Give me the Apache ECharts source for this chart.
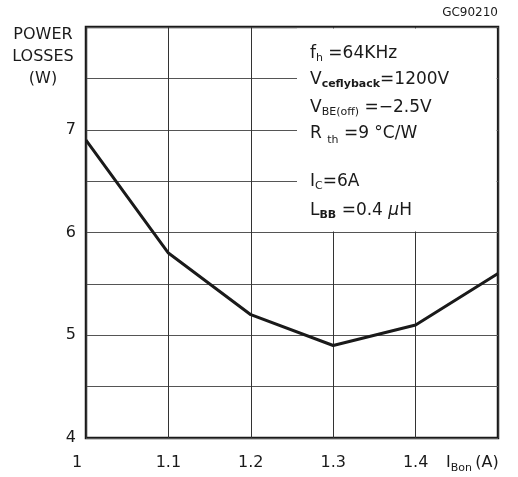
<!DOCTYPE html>
<html>
<head>
<meta charset="utf-8">
<script src="https://cdn.jsdelivr.net/npm/echarts@6/dist/echarts.min.js"></script>
<style>
  html, body { margin: 0; padding: 0; background: #fff; }
  #dv { width: 518px; height: 477px; }
</style>
</head>
<body>
<div id="dv"></div>
<script>
// I_Bon (A) vs power losses (W)
var currentA = [1.0, 1.1, 1.2, 1.3, 1.4, 1.5]
var powerLoss = [6.9, 5.8, 5.2, 4.9, 5.1, 5.6]
var yTickLabels = [4, 5, 6, 7]
var xTickLabels = ['1', '1.1', '1.2', '1.3', '1.4']

var font = 'DejaVu Sans'
var ink = '#1a1a1a'

var chartDom = document.getElementById('dv');
var myChart = echarts.init(chartDom);

var points = []
for (var i = 0; i < currentA.length; i++) {
    points.push([currentA[i], powerLoss[i]])
}

function note(y, text, rich) {
    return {
        type: 'text',
        x: 310,
        y: y,
        z: 102,
        style: {
            text: text,
            fill: ink,
            fontFamily: font,
            fontSize: 17,
            verticalAlign: 'middle',
            rich: rich
        }
    }
}

var sub = { fontFamily: font, fontSize: 11, lineHeight: 11, verticalAlign: 'bottom', fill: ink }
var subB = { fontFamily: font, fontSize: 11, fontWeight: 'bold', lineHeight: 11, verticalAlign: 'bottom', fill: ink }
var main = { fontFamily: font, fontSize: 17, lineHeight: 20, fill: ink }

var option = {
    animation: false,
    backgroundColor: '#fff',
    grid: {
        left: 86,
        right: 20,
        top: 27,
        bottom: 39,
        show: true,
        borderColor: ink,
        borderWidth: 2.5
    },
    xAxis: {
        type: 'value',
        min: 1,
        max: 1.5,
        interval: 0.1,
        axisLine: { show: false },
        axisTick: { show: false },
        splitLine: { lineStyle: { color: '#333', width: 1 } },
        axisLabel: {
            margin: 17,
            color: ink,
            fontFamily: font,
            fontSize: 16,
            formatter: function (v) {
                var s = (Math.round(v * 10) / 10).toString()
                if (xTickLabels.indexOf(s) < 0) return ''
                if (s === '1') return '{first|1}'
                return s
            },
            rich: {
                first: { fontFamily: font, fontSize: 16, color: ink, padding: [0, 18, 0, 0] }
            }
        }
    },
    yAxis: {
        type: 'value',
        min: 4,
        max: 8,
        interval: 0.5,
        axisLine: { show: false },
        axisTick: { show: false },
        splitLine: { lineStyle: { color: '#555', width: 1 } },
        axisLabel: {
            margin: 10,
            color: ink,
            fontFamily: font,
            fontSize: 16,
            formatter: function (v) {
                return yTickLabels.indexOf(v) >= 0 ? String(v) : ''
            }
        }
    },
    graphic: [
        {
            type: 'rect',
            z: 100,
            shape: { x: 297, y: 28.5, width: 199.5, height: 203 },
            style: { fill: '#fff' }
        },
        {
            type: 'text',
            x: 43,
            y: 24,
            z: 101,
            style: {
                text: 'POWER\nLOSSES\n(W)',
                fill: ink,
                fontFamily: font,
                fontSize: 16,
                lineHeight: 22,
                align: 'center'
            }
        },
        {
            type: 'text',
            x: 498,
            y: 13,
            z: 101,
            style: {
                text: 'GC90210',
                fill: ink,
                fontFamily: font,
                fontSize: 12,
                align: 'right',
                verticalAlign: 'middle'
            }
        },
        {
            type: 'text',
            x: 446,
            y: 463,
            z: 101,
            style: {
                text: '{m|I}{s|Bon} {m|(A)}',
                fill: ink,
                verticalAlign: 'middle',
                rich: {
                    m: { fontFamily: font, fontSize: 16, lineHeight: 22, fill: ink },
                    s: { fontFamily: font, fontSize: 11, lineHeight: 11, verticalAlign: 'bottom', fill: ink }
                }
            }
        },
        note(54, '{m|f}{s|h}{m| =64KHz}', { m: main, s: sub }),
        note(80, '{m|V}{s|ceflyback}{m|=1200V}', { m: main, s: subB }),
        note(108, '{m|V}{s|BE(off)}{m| =\u22122.5V}', { m: main, s: sub }),
        note(134, '{m|R }{s|th}{m| =9 \u00b0C/W}', { m: { fontFamily: font, fontSize: 17, lineHeight: 24, fill: ink }, s: sub }),
        note(182, '{m|I}{s|C}{m|=6A}', { m: main, s: sub }),
        note(211, '{m|L}{s|BB}{m| =0.4 }{i|\u03bc}{m|H}', {
            m: main,
            s: subB,
            i: { fontFamily: font, fontSize: 17, fontStyle: 'italic', lineHeight: 20, fill: ink }
        })
    ],
    series: [
        {
            type: 'line',
            data: points,
            showSymbol: false,
            lineStyle: { color: ink, width: 3 },
            z: 5
        }
    ]
};

option && myChart.setOption(option);
</script>
</body>
</html>
